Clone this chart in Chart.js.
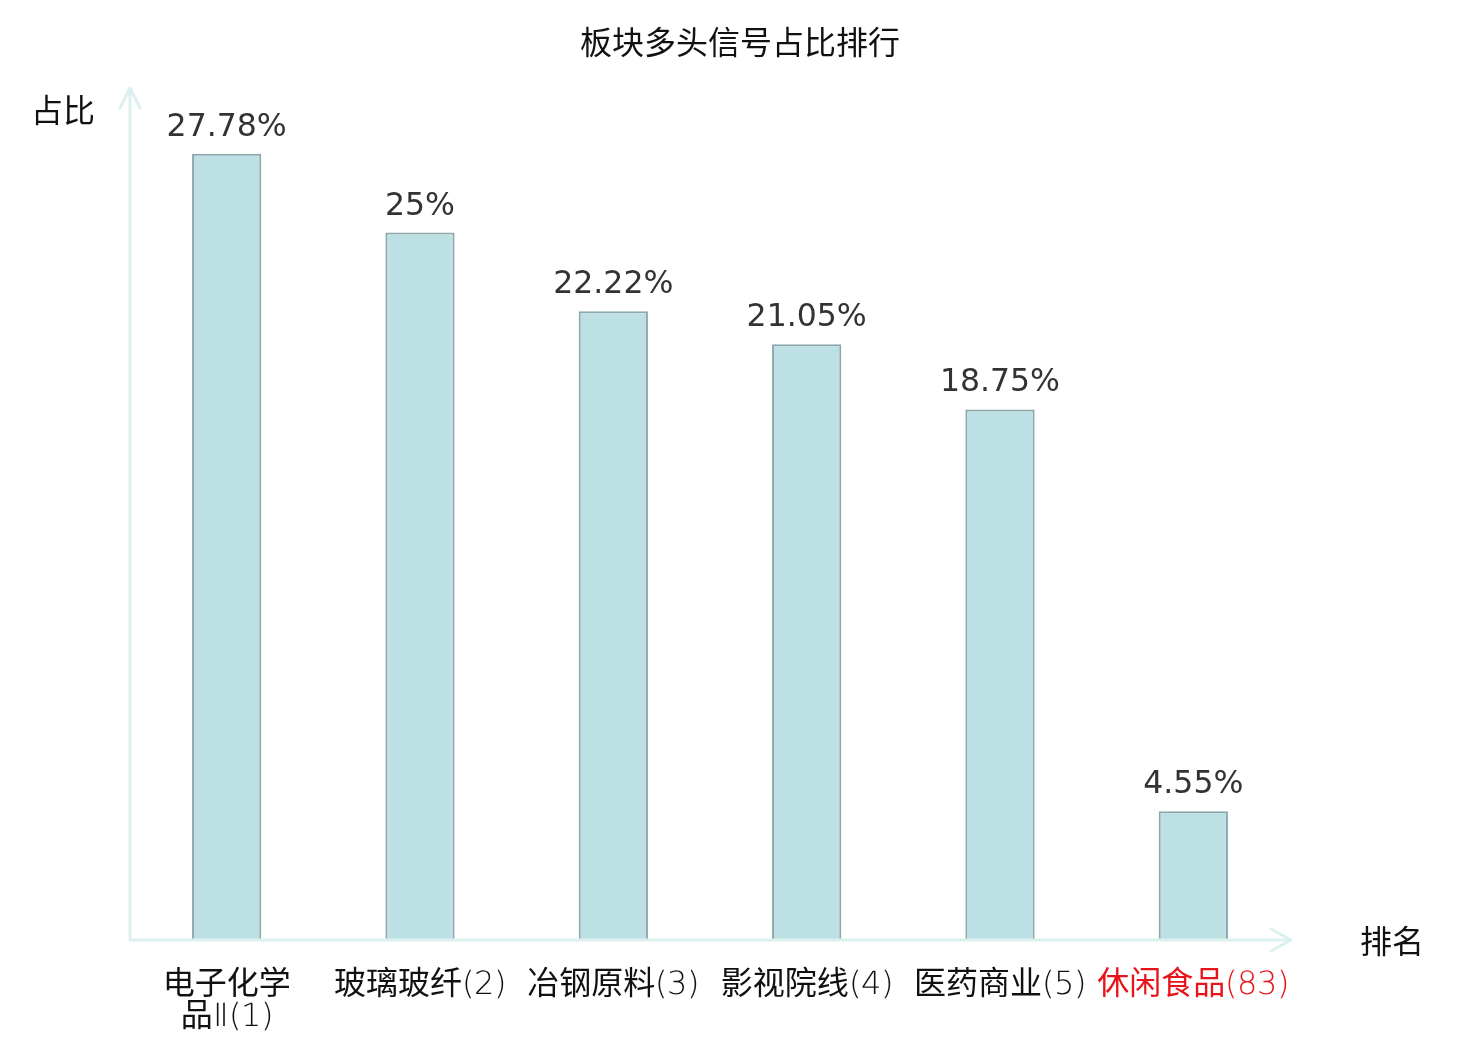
<!DOCTYPE html>
<html lang="zh">
<head>
<meta charset="UTF-8">
<title>板块多头信号占比排行</title>
<script src="https://cdn.jsdelivr.net/npm/chart.js"></script>
<style>
    @font-face {
        font-family: "TickLatin";
        src: local("DejaVu Sans ExtraLight"), local("DejaVuSans-ExtraLight");
        font-weight: normal;
        unicode-range: U+0000-024F, U+2160-217F;
    }
    html, body { margin: 0; padding: 0; background: #ffffff; }
    #wrap { width: 1480px; height: 1040px; }
</style>
</head>
<body>
<div id="wrap"><canvas id="chart" width="1480" height="1040"></canvas></div>
<script>
    // data
    const chartTitle = '板块多头信号占比排行';
    const yName = '占比';
    const xName = '排名';
    const categories = [['电子化学', '品Ⅱ(1)'], '玻璃玻纤(2)', '冶钢原料(3)', '影视院线(4)', '医药商业(5)', '休闲食品(83)'];
    const ratios = [27.78, 25, 22.22, 21.05, 18.75, 4.55];
    const highlightIndex = 5;
    const yMax = 30;

    const axisColor = '#dcf1ef';
    const cjkFont = '"Noto Sans CJK SC", "DejaVu Sans", sans-serif';
    const tickFont = '"TickLatin", "Noto Sans CJK SC", sans-serif';

    // title, axis lines with open arrows, axis names, value labels
    const decorPlugin = {
        id: 'decor',
        afterDatasetsDraw(chart) {
            const { ctx, chartArea } = chart;
            const { left, right, top, bottom } = chartArea;
            ctx.save();
            ctx.fillStyle = '#111111';
            ctx.font = '32px ' + cjkFont;
            ctx.textAlign = 'center';
            ctx.textBaseline = 'middle';
            ctx.fillText(chartTitle, chart.width / 2, 42);

            ctx.strokeStyle = axisColor;
            ctx.lineWidth = 3;
            ctx.lineCap = 'round';
            ctx.lineJoin = 'round';
            ctx.beginPath();
            ctx.moveTo(left, bottom);
            ctx.lineTo(left, top - 3);
            ctx.moveTo(left - 10, top + 17);
            ctx.lineTo(left, top - 3);
            ctx.lineTo(left + 10, top + 17);
            ctx.moveTo(left, bottom);
            ctx.lineTo(right + 1, bottom);
            ctx.moveTo(right - 19, bottom - 11);
            ctx.lineTo(right + 1, bottom);
            ctx.lineTo(right - 19, bottom + 11);
            ctx.stroke();

            ctx.fillText(yName, left - 67, top + 19);
            ctx.fillText(xName, right + 102, bottom + 1);

            const meta = chart.getDatasetMeta(0);
            ctx.fillStyle = '#333333';
            ctx.font = '31.5px "DejaVu Sans", sans-serif';
            ctx.textBaseline = 'alphabetic';
            meta.data.forEach((bar, i) => {
                ctx.fillText(ratios[i] + '%', bar.x, bar.y - 18);
            });
            ctx.restore();
        }
    };

    const chart = new Chart(document.getElementById('chart'), {
        type: 'bar',
        data: {
            labels: categories,
            datasets: [{
                data: ratios,
                backgroundColor: '#bce0e3',
                borderColor: '#8ca7a9',
                borderWidth: 2,
                borderSkipped: 'bottom',
                categoryPercentage: 1,
                barPercentage: 0.358
            }]
        },
        options: {
            responsive: false,
            devicePixelRatio: 1,
            animation: false,
            layout: { padding: { left: 130, right: 190, top: 91, bottom: 0 } },
            plugins: {
                legend: { display: false },
                tooltip: { enabled: false },
                title: { display: false }
            },
            scales: {
                x: {
                    grid: { display: false, drawTicks: false },
                    border: { display: false },
                    ticks: {
                        padding: 30,
                        maxRotation: 0,
                        autoSkip: false,
                        font: { family: tickFont, size: 32, lineHeight: 1.0 },
                        color: (c) => c.index === highlightIndex ? '#e8141b' : '#111111'
                    },
                    afterFit(scale) { scale.height = 100; }
                },
                y: {
                    display: false,
                    min: 0,
                    max: yMax
                }
            }
        },
        plugins: [decorPlugin]
    });

    // redraw once the local tick face is ready
    document.fonts.load('32px "TickLatin"', '(12)').then(() => chart.update()).catch(() => {});
</script>
</body>
</html>
